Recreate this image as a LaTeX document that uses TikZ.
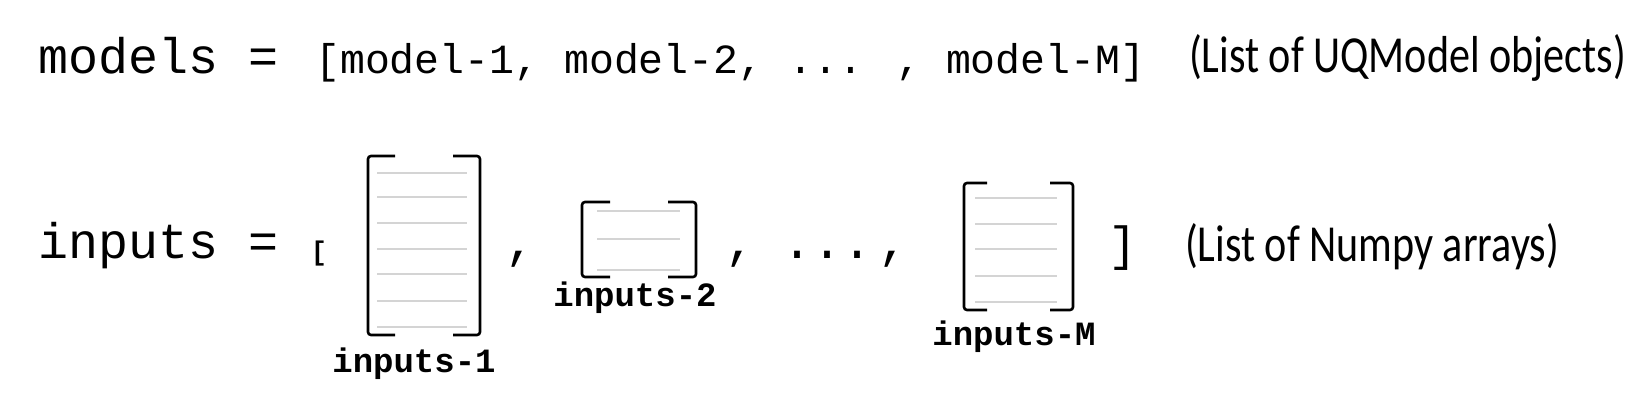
\documentclass[tikz,border=0pt]{standalone}
\usepackage{graphicx}
\usepackage{fontspec}
\newfontfamily\codefont{Liberation Mono}
\newfontfamily\notefont{Carlito}
\tikzset{
  code/.style={font=\codefont\fontsize{50}{60}\selectfont, inner sep=0pt, anchor=base west},
  codesm/.style={font=\codefont\fontsize{41.5}{50}\selectfont, inner sep=0pt, anchor=base west},
  arrname/.style={font=\codefont\bfseries\fontsize{34}{40}\selectfont, inner sep=0pt, anchor=base},
  punct/.style={font=\codefont\fontsize{50}{60}\selectfont, inner sep=0pt, anchor=base},
  brk/.style={line width=2.6pt, rounded corners=3pt},
  row/.style={line width=2pt, color=black!17},
}
\newcommand{\note}[1]{\notefont\fontsize{52}{62}\selectfont\scalebox{0.81}[1]{#1}}

\begin{document}
\begin{tikzpicture}[x=1pt, y=-1pt]
%  models = [model-1, model-2, ... , model-M]      (note)
%
%            +-+         +-+
%  inputs = [| | , +-+ , ... , | | ]               (note)
%            | |   +-+         +-+
%            +-+  name         name
%           name
\useasboundingbox (0,0) rectangle (1635,413);
% first row
\node[code]   (models) at (38,73)   {models =};
\node[codesm] (mlist)  at (315,73)  {[model-1, model-2, ... , model-M]};
\node[inner sep=0pt, anchor=base west] (mnote) at (1189,72) {\note{(List of UQModel objects)}};
% second row
\node[code]   (inputs) at (38,258)  {inputs =};
\node[font=\codefont\bfseries\fontsize{27}{30}\selectfont, inner sep=0pt] (lbrk) at (319,254) {[};
\node[punct]  (c1)     at (520,258) {,};
\node[punct]  (c2)     at (740,258) {,};
\node[punct]  (dots)   at (827,258) {...};
\node[punct]  (c3)     at (893,258) {,};
\node[font=\codefont\fontsize{48}{56}\selectfont, inner sep=0pt] (rbrk) at (1123,248) {]};
\node[inner sep=0pt, anchor=base west] (inote) at (1185,261) {\note{(List of Numpy arrays)}};
% inputs-1
\draw[brk] (395,156) -| (368,335) -- (395,335);
\draw[brk] (453,156) -| (480,335) -- (453,335);
\foreach \y in {173,197,223,249,274,301,327}
  \draw[row] (377,\y) -- (467,\y);
\node[arrname] (in1) at (414,372) {inputs-1};
% inputs-2
\draw[brk] (610,202) -| (582,277) -- (610,277);
\draw[brk] (668,202) -| (696,277) -- (668,277);
\foreach \y in {211,239,270}
  \draw[row] (597,\y) -- (680,\y);
\node[arrname] (in2) at (635,306) {inputs-2};
% inputs-M
\draw[brk] (987,183) -| (964,310) -- (987,310);
\draw[brk] (1050,183) -| (1073,310) -- (1050,310);
\foreach \y in {198,224,249,276,302}
  \draw[row] (975,\y) -- (1057,\y);
\node[arrname] (inM) at (1014,345) {inputs-M};
\end{tikzpicture}
\end{document}
